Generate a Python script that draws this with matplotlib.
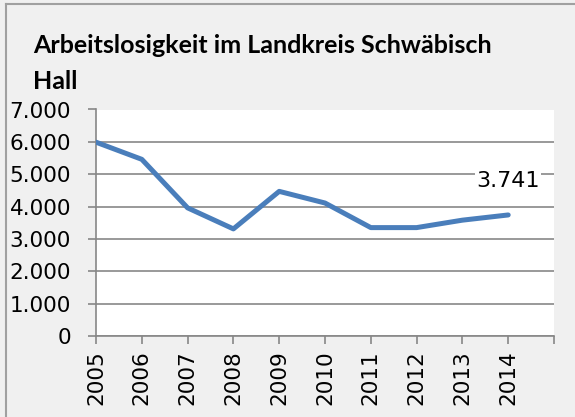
import numpy as np
import matplotlib.pyplot as plt
from matplotlib.lines import Line2D

years = ['2005', '2006', '2007', '2008', '2009', '2010', '2011', '2012', '2013', '2014']
arbeitslose = [5990, 5460, 3960, 3310, 4470, 4110, 3350, 3350, 3580, 3741]
yticks = [0, 1000, 2000, 3000, 4000, 5000, 6000, 7000]
ytick_labels = ['0', '1.000', '2.000', '3.000', '4.000', '5.000', '6.000', '7.000']

plt.rcParams['font.family'] = ['DejaVu Sans']
bg = '#f0f0f0'
grey = '#878787'

fig = plt.figure(figsize=(5.75, 4.17), dpi=100, facecolor=bg)
ax = fig.add_axes([96 / 575, 1 - 336 / 417, (554 - 96) / 575, (336 - 109.5) / 417])
ax.set_facecolor('white')

x = np.arange(len(years))
ax.plot(x, arbeitslose, color='#4a7ebb', lw=3.6, solid_capstyle='round', zorder=3)

ax.set_xlim(0, len(years))
ax.set_ylim(0, 7000)
ax.set_yticks(yticks)
ax.set_yticklabels(ytick_labels, fontsize=15.5)
ax.set_xticks(np.arange(len(years) + 1))
ax.set_xticklabels(years + [''], rotation=90, fontsize=15.5)
ax.yaxis.grid(True, color=grey, lw=1.2)
ax.set_axisbelow(True)

for s in ['top', 'right']:
    ax.spines[s].set_visible(False)
for s in ['left', 'bottom']:
    ax.spines[s].set_color(grey)
    ax.spines[s].set_linewidth(1.2)
ax.tick_params(axis='y', color=grey, width=1.2, length=6, pad=12)
ax.tick_params(axis='x', color=grey, width=1.2, length=6, pad=4)

# data label on last point
ax.text(x[-1], arbeitslose[-1] + 1060, '3.741', ha='center', va='center', fontsize=16,
        bbox=dict(facecolor='white', edgecolor='none', pad=1), zorder=4)

fig.text(33 / 575, 1 - 89 / 417, 'Arbeitslosigkeit im Landkreis Schwäbisch\nHall',
         fontsize=18, fontweight='bold', ha='left', va='baseline', linespacing=1.7,
         family=['Lato', 'DejaVu Sans'])

# outer border (top and left)
fig.add_artist(Line2D([6 / 575, 6 / 575], [0, 1 - 4 / 417], transform=fig.transFigure, color='#a0a0a0', lw=1.5))
fig.add_artist(Line2D([6 / 575, 1], [1 - 4 / 417, 1 - 4 / 417], transform=fig.transFigure, color='#a0a0a0', lw=1.5))

fig.savefig('out.png', dpi=100, facecolor=bg)
